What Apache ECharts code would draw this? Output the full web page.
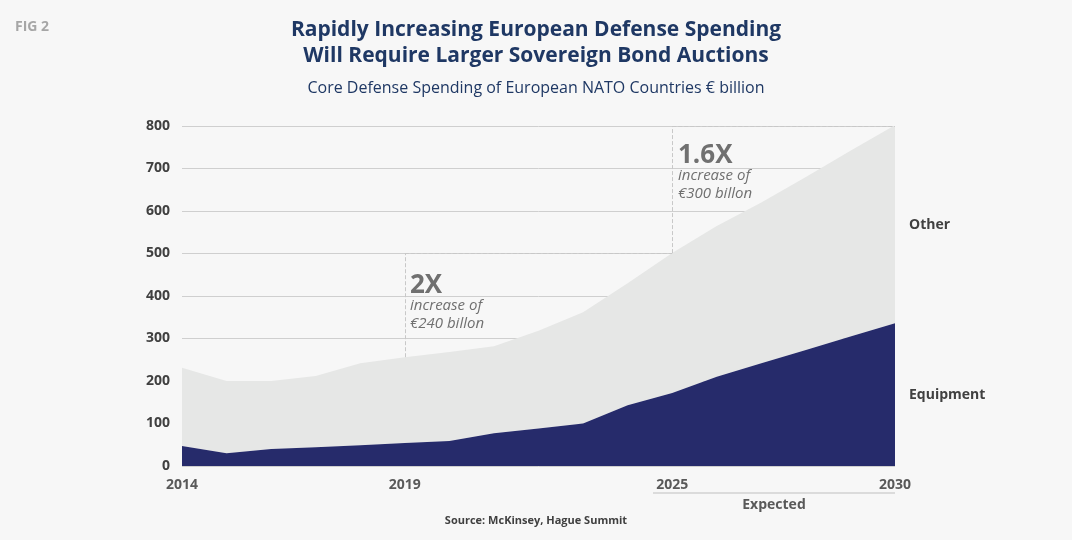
<!DOCTYPE html>
<html><head><meta charset="utf-8">
<script src="https://cdn.jsdelivr.net/npm/echarts@6/dist/echarts.min.js"></script>
<style>html,body{margin:0;padding:0;background:#f7f7f7}#c{width:1072px;height:540px}</style>
</head><body><div id="c"></div>
<script>
const years = ['2014','2015','2016','2017','2018','2019','2020','2021','2022','2023','2024','2025','2026','2027','2028','2029','2030'];
const shownYears = ['2014','2019','2025','2030'];
const total = [231,200,200,212,242,256,268,282,318,362,430,501,565,620,680,742,802];
const equipment = [47,30,40,44,49,54,59,77,88,100,143,172,210,242,273,305,336];
const other = total.map((t,i)=>t-equipment[i]);
const yTicks = [0,100,200,300,400,500,600,700,800];
const F = '"Open Sans","Noto Sans",sans-serif';
const dash = {type:'dashed',color:'#c8c8c8',width:1};
const chart = echarts.init(document.getElementById('c'));
chart.setOption({
  backgroundColor:'#f7f7f7',
  animation:false,
  grid:{left:182,right:177,top:126,bottom:74},
  xAxis:{type:'category',data:years,boundaryGap:false,
    axisLine:{show:false},axisTick:{show:false},
    axisLabel:{interval:0,formatter:v=>shownYears.includes(v)?v:'',color:'#595959',fontFamily:F,fontWeight:'bold',fontSize:14,margin:12}},
  yAxis:{type:'value',min:0,max:800,interval:100,
    axisLabel:{color:'#404040',fontFamily:F,fontWeight:'bold',fontSize:14,margin:12,formatter:v=>yTicks.includes(v)?String(v):''},
    splitLine:{lineStyle:{color:'#cfcfcf',width:1}}},
  series:[
    {name:'Equipment',type:'line',stack:'s',data:equipment,symbol:'none',lineStyle:{width:0},
     areaStyle:{color:'#262b6b',opacity:1},z:3},
    {name:'Other',type:'line',stack:'s',data:other,symbol:'none',lineStyle:{width:0},
     areaStyle:{color:'#e6e7e6',opacity:1},z:2},
    {type:'line',data:[],z:4,markLine:{silent:true,symbol:'none',label:{show:false},lineStyle:dash,data:[
      [{coord:['2019',256]},{coord:['2019',500]}],
      [{coord:['2019',500]},{coord:['2025',500]}],
      [{coord:['2025',501]},{coord:['2025',800]}],
      [{coord:['2025',800]},{coord:['2030',800]}]
    ]}}
  ],
  graphic:[
    {type:'text',left:15,top:20,style:{text:'FIG 2',fill:'#a6a6a6',font:'bold 14px '+F}},
    {type:'text',x:536,y:30,style:{text:'Rapidly Increasing European Defense Spending',fill:'#1f3864',font:'bold 21px '+F,align:'center',verticalAlign:'middle'}},
    {type:'text',x:536,y:56,style:{text:'Will Require Larger Sovereign Bond Auctions',fill:'#1f3864',font:'bold 21px '+F,align:'center',verticalAlign:'middle'}},
    {type:'text',x:536,y:88,style:{text:'Core Defense Spending of European NATO Countries € billion',fill:'#1f3864',font:'16px '+F,align:'center',verticalAlign:'middle'}},
    {type:'text',x:410,y:286,style:{text:'2X',fill:'#707070',font:'bold 26px '+F,verticalAlign:'middle'}},
    {type:'text',x:410,y:306,style:{text:'increase of',fill:'#707070',font:'italic 15px '+F,verticalAlign:'middle'}},
    {type:'text',x:410,y:324,style:{text:'€240 billon',fill:'#707070',font:'italic 15px '+F,verticalAlign:'middle'}},
    {type:'text',x:678,y:156,style:{text:'1.6X',fill:'#707070',font:'bold 26px '+F,verticalAlign:'middle'}},
    {type:'text',x:678,y:176,style:{text:'increase of',fill:'#707070',font:'italic 15px '+F,verticalAlign:'middle'}},
    {type:'text',x:678,y:194,style:{text:'€300 billon',fill:'#707070',font:'italic 15px '+F,verticalAlign:'middle'}},
    {type:'text',x:909,y:225,style:{text:'Other',fill:'#404040',font:'bold 14px '+F,verticalAlign:'middle'}},
    {type:'text',x:909,y:395,style:{text:'Equipment',fill:'#404040',font:'bold 14px '+F,verticalAlign:'middle'}},
    {type:'line',shape:{x1:653,y1:493,x2:895,y2:493},style:{stroke:'#bfbfbf',lineWidth:1}},
    {type:'text',x:774,y:505,style:{text:'Expected',fill:'#595959',font:'bold 14px '+F,align:'center',verticalAlign:'middle'}},
    {type:'text',x:536,y:521,style:{text:'Source: McKinsey, Hague Summit',fill:'#404040',font:'bold 11px '+F,align:'center',verticalAlign:'middle'}}
  ]
});
</script></body></html>
